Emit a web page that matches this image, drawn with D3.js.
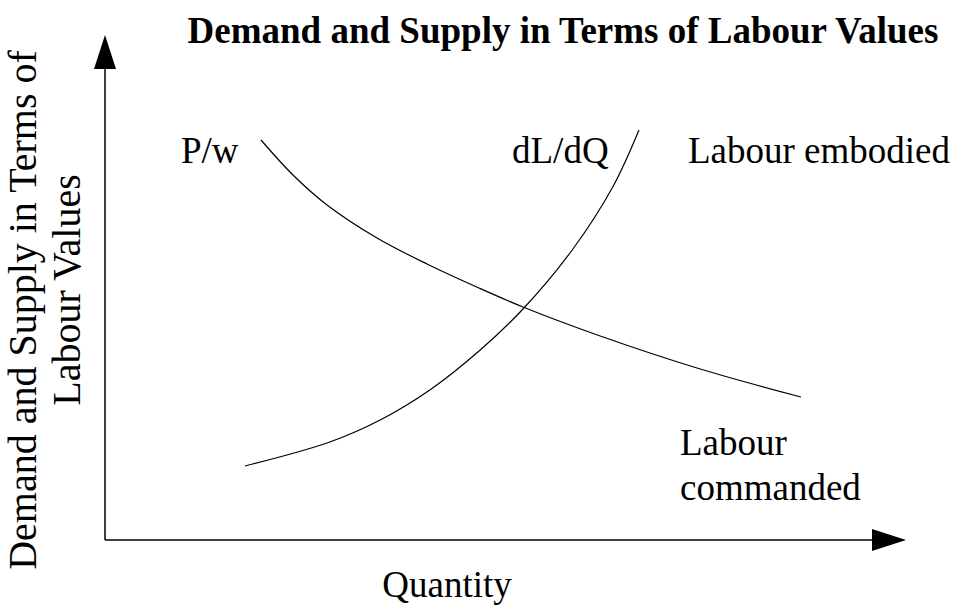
<!DOCTYPE html>
<html>
<head>
<meta charset="utf-8">
<script src="https://cdn.jsdelivr.net/npm/d3@7"></script>
<style>
  body { margin: 0; background: #fff; }
  svg text { font-family: "Liberation Serif", "Times New Roman", serif; fill: #000; }
</style>
</head>
<body>
<svg id="chart"></svg>
<script>
// quantity / value pairs (arbitrary units 0-100)
var pwQty = [19.5, 23.5, 27.75, 34, 40.25, 46.6, 52.25, 61.9, 74.4, 87];
var pwVal = [80, 73, 67, 60.4, 55.2, 50.5, 46.6, 40.8, 34.2, 28.6];

var dldqQty = [17.5, 28.1, 34.4, 40.6, 46.9, 52.25, 58.4, 63.5, 66.75];
var dldqVal = [14.8, 19.6, 24, 30, 38, 46.2, 58, 70.7, 82];

var svgWidth = 955, svgHeight = 610;

var svg = d3.select('#chart')
  .attr("width", svgWidth)
  .attr("height", svgHeight);

var xScale = d3.scaleLinear()
  .domain([0, 100])
  .range([105, 905]);

var yScale = d3.scaleLinear()
  .domain([0, 100])
  .range([540, 40]);

// axes with arrow heads
var x0 = xScale(0), y0 = yScale(0);
var xTip = xScale(100) + 1, yTip = yScale(100) - 5;
var headLen = 34, headHalf = 11;

svg.append("line")
  .attr("x1", x0).attr("y1", y0)
  .attr("x2", x0).attr("y2", yTip + headLen)
  .attr("stroke", "#000").attr("stroke-width", 1.5);

svg.append("line")
  .attr("x1", x0).attr("y1", y0)
  .attr("x2", xTip - headLen).attr("y2", y0)
  .attr("stroke", "#000").attr("stroke-width", 1.5);

svg.append("path")
  .attr("d", "M" + x0 + "," + yTip +
    "L" + (x0 + headHalf) + "," + (yTip + headLen) +
    "L" + (x0 - headHalf) + "," + (yTip + headLen) + "Z")
  .attr("fill", "#000");

svg.append("path")
  .attr("d", "M" + xTip + "," + y0 +
    "L" + (xTip - headLen) + "," + (y0 - headHalf) +
    "L" + (xTip - headLen) + "," + (y0 + headHalf) + "Z")
  .attr("fill", "#000");

// curves
var line = d3.line()
  .x(function (d) { return xScale(d[0]); })
  .y(function (d) { return yScale(d[1]); })
  .curve(d3.curveCatmullRom.alpha(0.5));

svg.append("path")
  .datum(d3.zip(pwQty, pwVal))
  .attr("d", line)
  .attr("fill", "none")
  .attr("stroke", "#000")
  .attr("stroke-width", 1.2);

svg.append("path")
  .datum(d3.zip(dldqQty, dldqVal))
  .attr("d", line)
  .attr("fill", "none")
  .attr("stroke", "#000")
  .attr("stroke-width", 1.2);

// title
svg.append("text")
  .attr("x", 563).attr("y", 43)
  .attr("text-anchor", "middle")
  .style("font-weight", "bold")
  .style("font-size", "37px")
  .text("Demand and Supply in Terms of Labour Values");

// labels
function label(x, y, s) {
  svg.append("text")
    .attr("x", x).attr("y", y)
    .style("font-size", "37px")
    .text(s);
}
label(181, 163, "P/w");
label(512, 163, "dL/dQ");
label(688, 163, "Labour embodied");
label(680, 455, "Labour");
label(680, 500, "commanded");

svg.append("text")
  .attr("x", 447).attr("y", 597)
  .attr("text-anchor", "middle")
  .style("font-size", "37px")
  .text("Quantity");

// y axis title, two lines
svg.append("text")
  .attr("transform", "translate(36,310) rotate(-90)")
  .attr("text-anchor", "middle")
  .style("font-size", "40px")
  .text("Demand and Supply in Terms of");

svg.append("text")
  .attr("transform", "translate(80,290) rotate(-90)")
  .attr("text-anchor", "middle")
  .style("font-size", "40px")
  .text("Labour Values");
</script>
</body>
</html>
